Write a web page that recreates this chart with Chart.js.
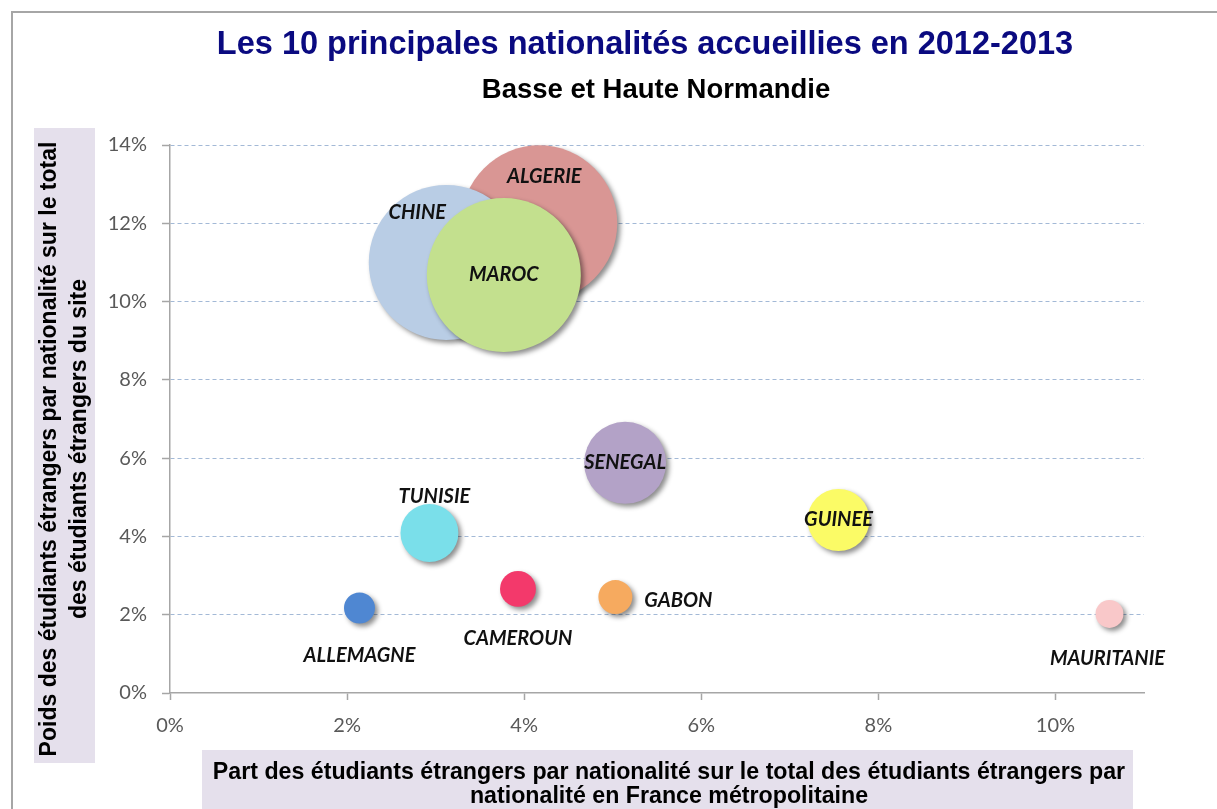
<!DOCTYPE html>
<html lang="fr">
<head>
<meta charset="utf-8">
<title>Les 10 principales nationalités accueillies en 2012-2013</title>
<script src="https://cdn.jsdelivr.net/npm/chart.js@4.4.1/dist/chart.umd.min.js"></script>
<style>
  html, body { margin: 0; padding: 0; background: #fff; }
  #wrap { position: relative; width: 1217px; height: 809px; overflow: hidden; }
</style>
</head>
<body>
<div id="wrap"><canvas id="bubbleChart" width="1217" height="809"></canvas></div>
<script>
(() => {
  'use strict'

  // Pays (les premiers sont dessinés en dessous)
  const pays = ['ALGERIE', 'CHINE', 'MAROC', 'SENEGAL', 'GUINEE', 'TUNISIE', 'CAMEROUN', 'GABON', 'ALLEMAGNE', 'MAURITANIE'];
  // Part en France métropolitaine (%) - axe X
  const partFrance = [4.17, 3.12, 3.77, 5.14, 7.55, 2.93, 3.93, 5.03, 2.14, 10.61];
  // Poids sur le site (%) - axe Y
  const poidsSite = [12.0, 11.0, 10.68, 5.88, 4.42, 4.09, 2.66, 2.45, 2.17, 2.02];
  // Taille relative des bulles (base 100 = Algérie)
  const taille = [100, 98.7, 97.5, 27.6, 15.8, 13.8, 5.3, 4.75, 3.95, 3.2];
  // Graduations
  const ticksX = [0, 2, 4, 6, 8, 10];
  const ticksY = [0, 2, 4, 6, 8, 10, 12, 14];

  // Styles
  const couleurs = ['#d99694', '#b9cde5', '#c3e08e', '#b3a2c7', '#fbfb66', '#7adfea', '#f3396b', '#f6aa5f', '#4f87d2', '#f9c8c9'];
  const rayonMax = 78;
  // décalage des étiquettes par rapport au centre de la bulle (px)
  const decalages = [[5, -47], [-29, -50], [0, 0], [0, 0], [0, 0], [5, -36], [0, 50], [63, 3], [0, 47], [-2, 45]];
  const gris = '#a6a6a6';
  const grille = '#a3b9d6';
  const fondTitre = '#e5e0ec';

  const maxTaille = Math.max(...taille);
  const points = pays.map((p, i) => ({
    x: partFrance[i],
    y: poidsSite[i],
    r: rayonMax * Math.sqrt(taille[i] / maxTaille)
  }));

  // ombre portée des bulles
  const ombre = {
    id: 'ombre',
    beforeDatasetsDraw(chart) {
      const c = chart.ctx;
      c.save();
      c.shadowColor = 'rgba(0, 0, 0, 0.45)';
      c.shadowBlur = 5;
      c.shadowOffsetX = 3;
      c.shadowOffsetY = 3;
    },
    afterDatasetsDraw(chart) {
      chart.ctx.restore();
    }
  };

  // noms des pays
  const etiquettes = {
    id: 'etiquettes',
    afterDraw(chart) {
      const c = chart.ctx;
      const meta = chart.getDatasetMeta(0);
      c.save();
      c.font = 'italic bold 20px Lato';
      c.fillStyle = '#111';
      c.textAlign = 'center';
      c.textBaseline = 'middle';
      meta.data.forEach((el, i) => {
        c.fillText(pays[i], el.x + decalages[i][0], el.y + decalages[i][1]);
      });
      c.restore();
    }
  };

  // cadre, titres et titres d'axes encadrés
  const habillage = {
    id: 'habillage',
    beforeDraw(chart) {
      const c = chart.ctx;
      c.save();
      c.fillStyle = '#fff';
      c.fillRect(0, 0, chart.width, chart.height);
      c.strokeStyle = gris;
      c.lineWidth = 2;
      c.strokeRect(12, 12, 1300, 900);

      c.textAlign = 'center';
      c.textBaseline = 'alphabetic';
      c.fillStyle = '#0a0a80';
      c.font = 'bold 32.5px "Liberation Sans", Arial';
      c.fillText('Les 10 principales nationalités accueillies en 2012-2013', 645, 54);
      c.fillStyle = '#000';
      c.font = 'bold 27.5px "Liberation Sans", Arial';
      c.fillText('Basse et Haute Normandie', 656, 98);

      // titre axe Y
      c.fillStyle = fondTitre;
      c.fillRect(34, 128, 61, 635);
      c.fillStyle = '#000';
      c.font = 'bold 23px "Liberation Sans", Arial';
      c.save();
      c.translate(64.5, 449);
      c.rotate(-Math.PI / 2);
      c.textBaseline = 'middle';
      c.fillText('Poids des étudiants étrangers par nationalité sur le total', 0, -15);
      c.fillText('des étudiants étrangers du site', 0, 15);
      c.restore();

      // titre axe X
      c.fillStyle = fondTitre;
      c.fillRect(202, 750, 931, 80);
      c.fillStyle = '#000';
      c.font = 'bold 23.2px "Liberation Sans", Arial';
      c.fillText('Part des étudiants étrangers par nationalité sur le total des étudiants étrangers par', 669, 779);
      c.fillText('nationalité en France métropolitaine', 669, 803);
      c.restore();
    }
  };

  const ctx = document.getElementById('bubbleChart').getContext('2d');

  const config = {
    type: 'bubble',
    data: {
      datasets: [{
        label: 'Nationalités',
        data: points,
        backgroundColor: couleurs,
        borderWidth: 0,
        clip: false
      }]
    },
    options: {
      responsive: false,
      animation: false,
      events: [],
      layout: {
        autoPadding: false,
        padding: { left: 0, right: 73, top: 145, bottom: 66 }
      },
      plugins: {
        legend: { display: false },
        title: { display: false },
        tooltip: { enabled: false }
      },
      scales: {
        x: {
          type: 'linear',
          min: 0,
          max: 11,
          afterBuildTicks: (scale) => { scale.ticks = ticksX.map(v => ({ value: v })); },
          afterFit: (scale) => {
            scale.height = 50;
            scale.paddingLeft = 0;
            scale.paddingRight = 0;
          },
          grid: {
            drawOnChartArea: false,
            drawTicks: true,
            tickLength: 7,
            tickColor: gris,
            tickWidth: 1.5
          },
          border: { color: gris, width: 1.5 },
          ticks: {
            padding: 14,
            color: '#595959',
            font: { family: 'Lato', size: 20 },
            callback: (v) => v + '%'
          }
        },
        y: {
          type: 'linear',
          min: 0,
          max: 14,
          afterBuildTicks: (scale) => { scale.ticks = ticksY.map(v => ({ value: v })); },
          afterFit: (scale) => {
            scale.width = 170;
            scale.paddingTop = 0;
            scale.paddingBottom = 0;
          },
          grid: {
            color: (c) => (c.tick && c.tick.value === 0) ? 'rgba(0,0,0,0)' : grille,
            lineWidth: 1,
            drawTicks: true,
            tickLength: 8,
            tickColor: gris,
            tickWidth: 1.5
          },
          border: { color: gris, width: 1.5, dash: [4, 3] },
          ticks: {
            padding: 15,
            color: '#595959',
            font: { family: 'Lato', size: 20 },
            callback: (v) => v + '%'
          }
        }
      }
    },
    plugins: [habillage, ombre, etiquettes]
  };

  const myChart = new Chart(ctx, config);
})()
</script>
</body>
</html>
